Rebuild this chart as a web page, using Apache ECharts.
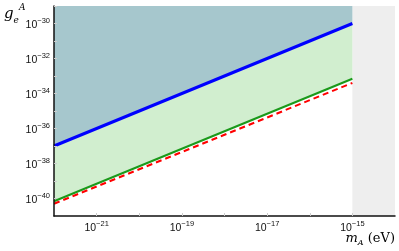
<!DOCTYPE html>
<html><head><meta charset="utf-8">
<script src="https://cdn.jsdelivr.net/npm/echarts@6/dist/echarts.min.js"></script>
<style>html,body{margin:0;padding:0;background:#fff}#c{width:399px;height:251px}</style>
</head><body><div id="c"></div>
<script>
const massX = [1e-22, 1e-15];
const blueBound = [1e-37, 1e-30];
const greenBound = [7e-41, 7e-34];
const redBound = [5e-41, 4e-34];
const xLabelExps = [-21, -19, -17, -15];
const yLabelExps = [-40, -38, -36, -34, -32, -30];
const excludedRange = [1e-15, 1e-14];
const yTop = 1e-29;

function pairs(xs, ys){ return xs.map((x,i)=>[x, ys[i]]); }
const sup = n => String(n).replace('-', '−');
function fmt(allowed){
  return function(v){
    const e = Math.round(Math.log10(v));
    if (allowed.indexOf(e) < 0) return '';
    return '{b|10}{s|' + sup(e) + '}';
  };
}
const rich = {
  b: {fontSize: 10.5, fontFamily: 'Liberation Sans', color: '#111', verticalAlign: 'bottom', lineHeight: 14},
  s: {fontSize: 7.5, fontFamily: 'Liberation Sans', color: '#111', verticalAlign: 'top', lineHeight: 14}
};
// region polygon between lower and upper boundaries
function bandSeries(lower, upper, color, z){
  return {
    type: 'custom', z: z, silent: true,
    data: massX.map((x,i)=>[x, lower[i], upper[i]]),
    renderItem: function(params, api){
      if (params.dataIndex !== 0) return null;
      const top = massX.map((x,i)=>api.coord([x, upper[i]]));
      const bot = massX.map((x,i)=>api.coord([x, lower[i]])).reverse();
      return {type: 'polygon', shape: {points: top.concat(bot)}, style: {fill: color}};
    }
  };
}
const chart = echarts.init(document.getElementById('c'), null, {renderer: 'canvas'});
chart.setOption({
  animation: false,
  grid: {left: 54, right: 4, top: 6, bottom: 35},
  xAxis: {
    type: 'log', logBase: 10, min: 1e-22, max: 1e-14, interval: 1, z: 10,
    axisLine: {show: true, lineStyle: {color: '#111', width: 1.5}},
    axisTick: {show: true, inside: true, length: 3, lineStyle: {color: '#ccc'}},
    axisLabel: {formatter: fmt(xLabelExps), rich: rich, margin: 4, showMinLabel: false, showMaxLabel: false},
    splitLine: {show: false}
  },
  yAxis: {
    type: 'log', logBase: 10, min: 1e-41, max: 1e-29, interval: 1, z: 10,
    axisLine: {show: true, lineStyle: {color: '#111', width: 1.5}},
    axisTick: {show: true, inside: true, length: 3, lineStyle: {color: '#ccc'}},
    axisLabel: {formatter: fmt(yLabelExps), rich: rich, margin: 4, showMinLabel: false, showMaxLabel: false},
    splitLine: {show: false}
  },
  series: [
    bandSeries(greenBound, blueBound, '#d1eecf', 1),
    bandSeries(blueBound, massX.map(()=>yTop), '#a6c7cd', 1),
    {type: 'line', data: pairs(massX, greenBound), symbol: 'none', z: 3,
     lineStyle: {color: '#1a9a1a', width: 2}},
    {type: 'line', data: pairs(massX, blueBound), symbol: 'none', z: 3,
     lineStyle: {color: '#0000ff', width: 3}},
    {type: 'line', data: pairs(massX, redBound), symbol: 'none', z: 4,
     lineStyle: {color: '#ff0000', width: 2, type: [6, 4]}},
    {type: 'line', data: [], z: 20,
     markArea: {silent: true, itemStyle: {color: '#eeeeee', opacity: 1},
       data: [[{xAxis: excludedRange[0]}, {xAxis: excludedRange[1]}]]}}
  ],
  graphic: [
    {type: 'text', left: 4, top: 3, style: {
      text: '{g|g}{e|e}{a|A}', rich: {
        g: {fontSize: 15, fontFamily: 'DejaVu Serif', fontStyle: 'italic', color: '#111', verticalAlign: 'middle', lineHeight: 22},
        e: {fontSize: 9, fontFamily: 'DejaVu Serif', fontStyle: 'italic', color: '#111', verticalAlign: 'bottom', lineHeight: 22},
        a: {fontSize: 9, fontFamily: 'DejaVu Serif', fontStyle: 'italic', color: '#111', verticalAlign: 'top', lineHeight: 22}
      }}},
    {type: 'text', right: 4, top: 232, style: {
      text: '{m|m}{s|A}{p| (eV)}', rich: {
        m: {fontSize: 13, fontFamily: 'DejaVu Serif', fontStyle: 'italic', color: '#111', verticalAlign: 'middle', lineHeight: 16},
        s: {fontSize: 8, fontFamily: 'DejaVu Serif', fontStyle: 'italic', color: '#111', verticalAlign: 'bottom', lineHeight: 16},
        p: {fontSize: 13, fontFamily: 'DejaVu Serif', color: '#111', verticalAlign: 'middle', lineHeight: 16}
      }}}
  ]
});
</script></body></html>
